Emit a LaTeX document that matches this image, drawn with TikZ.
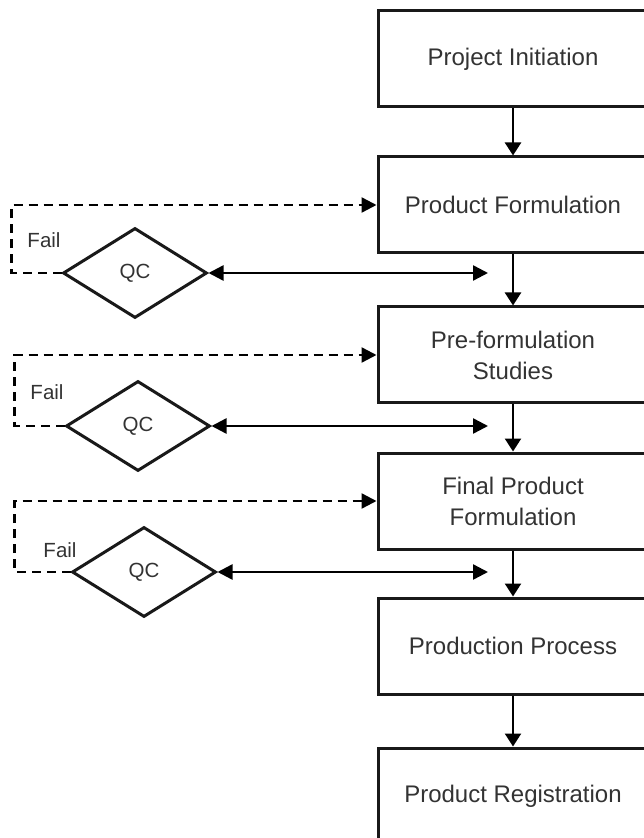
\documentclass[tikz,border=0pt]{standalone}
\usepackage{fontspec}
\setmainfont{Liberation Sans}
\usetikzlibrary{shapes.geometric, arrows.meta}

\begin{document}
\begin{tikzpicture}[
  x=0.5pt, y=-0.5pt,
  every node/.style={font=\fontsize{12pt}{15.5pt}\selectfont, text=black!80},
  box/.style={draw=black!90, line width=1.5pt,
              minimum width=135pt, minimum height=48pt,
              inner sep=0pt, align=center},
  qc/.style={diamond, draw=black!90, line width=1.5pt,
             minimum width=72pt, minimum height=45pt, inner sep=0pt,
             font=\fontsize{10.25pt}{12pt}\selectfont},
  lbl/.style={font=\fontsize{10.25pt}{12pt}\selectfont},
  arr/.style={-{Triangle[length=6.5pt, width=8pt]}, line width=1.2pt},
  chk/.style={{Triangle[length=7.5pt, width=7.5pt]}-{Triangle[length=7.5pt, width=7.5pt]},
              line width=1.2pt},
  fail/.style={-{Triangle[length=7.5pt, width=7.5pt]}, line width=1.2pt,
               dash pattern=on 4.5pt off 3pt},
]
\useasboundingbox (0,0) rectangle (643,838);

% --- main column
\node[box] (init) at (513, 59)  {Project Initiation};
\node[box] (form) at (513, 205) {Product Formulation};
\node[box] (pre)  at (513, 355) {Pre-formulation\\Studies};
\node[box] (fin)  at (513, 501) {Final Product\\Formulation};
\node[box] (proc) at (513, 646) {Production Process};
\node[box] (reg)  at (513, 796) {Product Registration};
\draw[arr] (init) -- (form);
\draw[arr] (form) -- (pre);
\draw[arr] (pre)  -- (fin);
\draw[arr] (fin)  -- (proc);
\draw[arr] (proc) -- (reg);

% --- QC checks
\node[qc] (qc1) at (135, 273) {QC};
\node[qc] (qc2) at (138, 426) {QC};
\node[qc] (qc3) at (144, 572) {QC};
\coordinate (c1) at (488, 273);
\coordinate (c2) at (488, 426);
\coordinate (c3) at (488, 572);
\draw[chk] (qc1.east) -- (c1);
\draw[chk] (qc2.east) -- (c2);
\draw[chk] (qc3.east) -- (c3);

% --- fail loops
\draw[fail] (qc1.west) -- ++(-50,0) |- (form.west);
\draw[fail] (qc2.west) -- ++(-50,0) |- (pre.west);
\draw[fail] (qc3.west) -- ++(-56,0) |- (fin.west);
\node[lbl] (f1) at (44, 240) {Fail};
\node[lbl] (f2) at (47, 392) {Fail};
\node[lbl] (f3) at (60, 550) {Fail};
\end{tikzpicture}
\end{document}
